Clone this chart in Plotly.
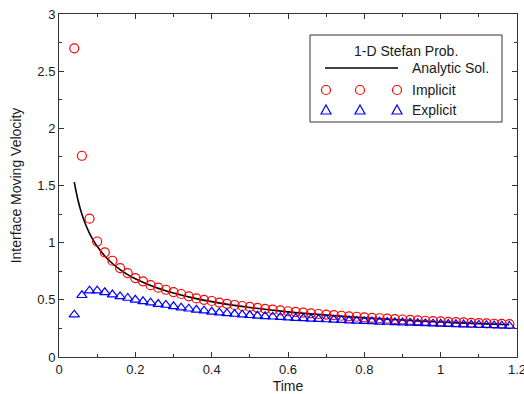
import plotly.graph_objects as go

# ---- data ----
time = [0.04, 0.06, 0.08, 0.10, 0.12, 0.14, 0.16, 0.18, 0.20, 0.22,
        0.24, 0.26, 0.28, 0.30, 0.32, 0.34, 0.36, 0.38, 0.40, 0.42,
        0.44, 0.46, 0.48, 0.50, 0.52, 0.54, 0.56, 0.58, 0.60, 0.62,
        0.64, 0.66, 0.68, 0.70, 0.72, 0.74, 0.76, 0.78, 0.80, 0.82,
        0.84, 0.86, 0.88, 0.90, 0.92, 0.94, 0.96, 0.98, 1.00, 1.02,
        1.04, 1.06, 1.08, 1.10, 1.12, 1.14, 1.16, 1.18]

implicit = [2.70, 1.76, 1.21, 1.01, 0.915, 0.842, 0.778, 0.734, 0.690, 0.662,
            0.628, 0.606, 0.588, 0.568, 0.551, 0.531, 0.512, 0.500, 0.490, 0.476,
            0.465, 0.455, 0.446, 0.438, 0.429, 0.421, 0.414, 0.407, 0.400, 0.394,
            0.388, 0.382, 0.376, 0.371, 0.366, 0.361, 0.356, 0.352, 0.347, 0.343,
            0.339, 0.335, 0.331, 0.328, 0.324, 0.321, 0.317, 0.314, 0.311, 0.308,
            0.305, 0.302, 0.299, 0.297, 0.294, 0.291, 0.289, 0.287]

explicit = [0.370, 0.540, 0.580, 0.580, 0.566, 0.546, 0.530, 0.516, 0.500, 0.487,
            0.475, 0.463, 0.455, 0.443, 0.431, 0.422, 0.413, 0.405, 0.395, 0.388,
            0.381, 0.376, 0.370, 0.365, 0.360, 0.356, 0.352, 0.348, 0.344, 0.340,
            0.337, 0.334, 0.331, 0.328, 0.325, 0.322, 0.319, 0.316, 0.313, 0.311,
            0.308, 0.306, 0.303, 0.301, 0.299, 0.296, 0.294, 0.292, 0.290, 0.288,
            0.286, 0.284, 0.282, 0.280, 0.278, 0.276, 0.274, 0.272]

analytic_t = [0.04, 0.05, 0.06, 0.07, 0.08, 0.09, 0.10, 0.12, 0.14, 0.16,
              0.18, 0.20, 0.25, 0.30, 0.35, 0.40, 0.45, 0.50, 0.60, 0.70,
              0.80, 0.90, 1.00, 1.10, 1.18]
analytic_v = [1.530, 1.369, 1.249, 1.157, 1.082, 1.020, 0.968, 0.883, 0.818, 0.765,
              0.721, 0.684, 0.612, 0.559, 0.517, 0.484, 0.456, 0.433, 0.395, 0.366,
              0.342, 0.323, 0.306, 0.292, 0.282]

x_ticks = [0, 0.2, 0.4, 0.6, 0.8, 1.0, 1.2]
x_tick_labels = ["0", "0.2", "0.4", "0.6", "0.8", "1", "1.2"]
y_ticks = [0, 0.5, 1.0, 1.5, 2.0, 2.5, 3.0]
y_tick_labels = ["0", "0.5", "1", "1.5", "2", "2.5", "3"]

legend_title = "1-D Stefan Prob."
series_names = ["Analytic Sol.", "Implicit", "Explicit"]

FONT = "Liberation Sans, Arial, sans-serif"
RED = "#ff0000"
BLUE = "#0000ff"
TXT = "#1a1a1a"

fig = go.Figure()
fig.add_trace(go.Scatter(x=analytic_t, y=analytic_v, mode="lines",
                         line=dict(color="black", width=1.6, shape="spline"),
                         name=series_names[0], showlegend=False))
fig.add_trace(go.Scatter(x=time, y=implicit, mode="markers",
                         marker=dict(symbol="circle-open", size=9, color=RED,
                                     line=dict(width=1.2, color=RED)),
                         name=series_names[1], showlegend=False))
fig.add_trace(go.Scatter(x=time, y=explicit, mode="markers",
                         marker=dict(symbol="triangle-up-open", size=9, color=BLUE,
                                     line=dict(width=1.2, color=BLUE)),
                         name=series_names[2], showlegend=False))

axis_common = dict(
    showline=True, linecolor="#333333", linewidth=1, mirror="allticks",
    ticks="inside", ticklen=5, tickcolor="#333333", tickwidth=1,
    showgrid=False, zeroline=False, ticklabeloverflow="allow", automargin=False,
    tickfont=dict(family=FONT, size=13, color=TXT),
)

fig.update_layout(
    template="none",
    width=524, height=394,
    margin=dict(l=59, r=7, t=14, b=37, autoexpand=False),
    paper_bgcolor="white", plot_bgcolor="white",
    font=dict(family=FONT, size=13, color=TXT),
    xaxis=dict(range=[0, 1.2], tickmode="array", tickvals=x_ticks, ticktext=x_tick_labels,
               minor=dict(ticks="inside", ticklen=3, dtick=0.1, tickcolor="#333333"),
               title=dict(text="Time", font=dict(family=FONT, size=14, color=TXT), standoff=6),
               **axis_common),
    yaxis=dict(range=[0, 3], tickmode="array", tickvals=y_ticks, ticktext=y_tick_labels,
               minor=dict(ticks="inside", ticklen=3, dtick=0.25, tickcolor="#333333"),
               title=dict(text="Interface Moving Velocity",
                          font=dict(family=FONT, size=14, color=TXT), standoff=12),
               **axis_common),
)

# ---- hand-built legend box (as in the reference) ----
def px_x(x):
    return (x - 59) / 458.0

def px_y(y):
    return (357 - y) / 343.0

shapes = [
    dict(type="rect", xref="paper", yref="paper",
         x0=px_x(310), x1=px_x(502), y0=px_y(122), y1=px_y(35),
         line=dict(color="#333333", width=1), fillcolor="white", layer="above"),
    dict(type="line", xref="paper", yref="paper",
         x0=px_x(325), x1=px_x(398), y0=px_y(68), y1=px_y(68),
         line=dict(color="black", width=1.6), layer="above"),
]
for cx in (326, 360, 397):
    shapes.append(dict(type="circle", xref="paper", yref="paper",
                       xsizemode="pixel", ysizemode="pixel",
                       xanchor=px_x(cx), yanchor=px_y(90),
                       x0=-4.5, x1=4.5, y0=-4.5, y1=4.5,
                       line=dict(color=RED, width=1.2), layer="above"))
    shapes.append(dict(type="path", xref="paper", yref="paper",
                       xsizemode="pixel", ysizemode="pixel",
                       xanchor=px_x(cx), yanchor=px_y(110),
                       path="M -5 -4 L 5 -4 L 0 5 Z",
                       line=dict(color=BLUE, width=1.2), layer="above"))

annotations = [
    dict(text=legend_title, xref="paper", yref="paper", x=px_x(406), y=px_y(51),
         showarrow=False, xanchor="center", yanchor="middle",
         font=dict(family=FONT, size=14, color=TXT)),
]
for name, yy in zip(series_names, (68, 90, 110)):
    annotations.append(dict(text=name, xref="paper", yref="paper", x=px_x(410), y=px_y(yy),
                            showarrow=False, xanchor="left", yanchor="middle",
                            font=dict(family=FONT, size=14, color=TXT)))

fig.update_layout(shapes=shapes, annotations=annotations)

fig.write_html("out.html", config={"displayModeBar": False},
               post_script="document.body.style.margin='0';document.body.style.overflow='hidden';")
